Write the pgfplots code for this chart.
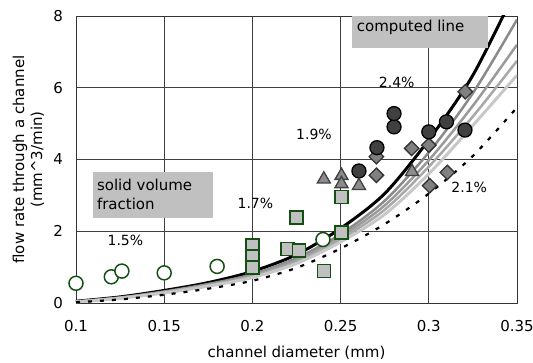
\documentclass[border=0pt]{standalone}
\usepackage{fontspec}
\setmainfont{DejaVu Sans}
\usepackage{pgfplots}
\pgfplotsset{compat=1.18}
\definecolor{dgreen}{RGB}{20,80,20}
\definecolor{gA}{RGB}{138,138,138}
\definecolor{gB}{RGB}{154,154,154}
\definecolor{gC}{RGB}{168,168,168}
\definecolor{gD}{RGB}{200,200,200}
\definecolor{boxgray}{RGB}{192,192,192}
\begin{document}
\fontsize{15pt}{18pt}\selectfont
\begin{tikzpicture}
\useasboundingbox (0,0) rectangle (533pt,362pt);
\begin{axis}[
  at={(76pt,59pt)}, anchor=south west,
  scale only axis, width=441pt, height=287pt,
  xmin=0.1, xmax=0.35, ymin=0, ymax=8,
  xtick={0.1,0.15,0.2,0.25,0.3,0.35},
  ytick={0,2,4,6,8},
  grid=major,
  major grid style={black!75, line width=0.8pt},
  axis line style={black!80, line width=0.9pt},
  tick style={draw=none},
  /pgf/number format/assume math mode=true,
  x tick label style={/pgf/number format/fixed, /pgf/number format/precision=2},
  ticklabel style={font=\fontsize{15pt}{18pt}\selectfont},
  xticklabel style={anchor=center, yshift=-23.5pt},
  yticklabel style={anchor=east, inner sep=0pt, xshift=-13pt},
  xlabel={channel diameter (mm)},
  xlabel style={at={(axis description cs:0.5,-0.174)}, anchor=center, font=\fontsize{15pt}{18pt}\selectfont},
  ylabel={flow rate through a channel\\(mm\^{}3/min)},
  ylabel style={at={(axis description cs:-0.1077,0.5)}, anchor=center, align=center, font=\fontsize{15pt}{18pt}\selectfont},
]
% computed lines
\addplot[black, line width=3pt, smooth] coordinates {(0.1,0.05) (0.125,0.17) (0.15,0.35) (0.175,0.57) (0.2,0.88) (0.225,1.35) (0.25,2.08) (0.275,3.05) (0.3,4.55) (0.325,6.35) (0.35,8.8)};
\addplot[gA, line width=2.5pt, smooth] coordinates {(0.1,0.04) (0.125,0.15) (0.15,0.32) (0.175,0.53) (0.2,0.80) (0.225,1.25) (0.25,1.92) (0.275,2.85) (0.3,4.20) (0.325,5.85) (0.35,7.9)};
\addplot[gB, line width=2.5pt, smooth] coordinates {(0.1,0.04) (0.125,0.15) (0.15,0.31) (0.175,0.51) (0.2,0.77) (0.225,1.20) (0.25,1.85) (0.275,2.72) (0.3,3.98) (0.325,5.50) (0.35,7.2)};
\addplot[gC, line width=2.5pt, smooth] coordinates {(0.1,0.03) (0.125,0.14) (0.15,0.30) (0.175,0.49) (0.2,0.74) (0.225,1.15) (0.25,1.78) (0.275,2.60) (0.3,3.80) (0.325,5.20) (0.35,6.75)};
\addplot[gD, line width=3pt, smooth] coordinates {(0.1,0.03) (0.125,0.13) (0.15,0.28) (0.175,0.47) (0.2,0.71) (0.225,1.10) (0.25,1.70) (0.275,2.47) (0.3,3.60) (0.325,4.95) (0.35,6.35)};
\addplot[black, line width=2.2pt, dash pattern=on 4pt off 8pt, smooth] coordinates {(0.1,0.02) (0.125,0.10) (0.15,0.23) (0.175,0.40) (0.2,0.62) (0.225,0.98) (0.25,1.52) (0.275,2.20) (0.3,3.05) (0.325,4.10) (0.35,5.45)};
% 1.5% open circles
\addplot[only marks, mark=*, mark size=7pt, mark options={draw=dgreen, fill=white, line width=1.5pt}] coordinates {(0.1,0.55) (0.12,0.73) (0.126,0.89) (0.15,0.84) (0.18,1.02) (0.24,1.77)};
% 1.7% squares
\addplot[only marks, mark=square*, mark size=6.5pt, mark options={draw=dgreen, fill=boxgray, line width=1.5pt}] coordinates {(0.2,1.60) (0.2,1.30) (0.2,0.99) (0.225,2.38) (0.22,1.50) (0.2263,1.46) (0.2405,0.89) (0.2506,1.96) (0.2506,2.96)};
% 2.1% diamonds
\addplot[only marks, mark=square*, mark size=5.1pt, mark options={rotate=45, draw=black!80, fill=black!50, line width=1.3pt}] coordinates {(0.2703,4.08) (0.2703,3.56) (0.2903,4.31) (0.300,4.40) (0.3207,5.89) (0.3005,3.27) (0.3105,3.64)};
% 2.4% dark circles
\addplot[only marks, mark=*, mark size=7pt, mark options={draw=black, fill=black!75, line width=1.3pt}] coordinates {(0.2604,3.68) (0.2706,4.33) (0.2803,4.91) (0.2803,5.28) (0.300,4.77) (0.310,5.05) (0.3205,4.82)};
% 1.9% triangles
\addplot[only marks, mark=triangle*, mark size=7.5pt, mark options={draw=black!75, fill=black!45, line width=1.3pt}] coordinates {(0.2405,3.45) (0.2505,3.55) (0.2505,3.32) (0.2604,3.27) (0.2905,3.66)};
% boxes and labels
\fill[boxgray] (axis cs:0.2563,8) rectangle (axis cs:0.3335,7.10);
\node[anchor=west, inner sep=0pt, font=\fontsize{15pt}{18pt}\selectfont] at (axis cs:0.2591,7.69) {computed line};
\fill[boxgray] (axis cs:0.1097,3.65) rectangle (axis cs:0.1778,2.37);
\node[anchor=west, inner sep=0pt, align=left, font=\fontsize{15pt}{19pt}\selectfont] at (axis cs:0.1118,3.02) {solid volume\\fraction};
\node[font=\fontsize{14pt}{16pt}\selectfont] at (axis cs:0.128,1.75) {1.5\%};
\node[font=\fontsize{14pt}{16pt}\selectfont] at (axis cs:0.2017,2.78) {1.7\%};
\node[font=\fontsize{14pt}{16pt}\selectfont] at (axis cs:0.2349,4.70) {1.9\%};
\node[font=\fontsize{14pt}{16pt}\selectfont] at (axis cs:0.2818,6.16) {2.4\%};
\node[font=\fontsize{14pt}{16pt}\selectfont] at (axis cs:0.3229,3.21) {2.1\%};
\end{axis}
\end{tikzpicture}
\end{document}
